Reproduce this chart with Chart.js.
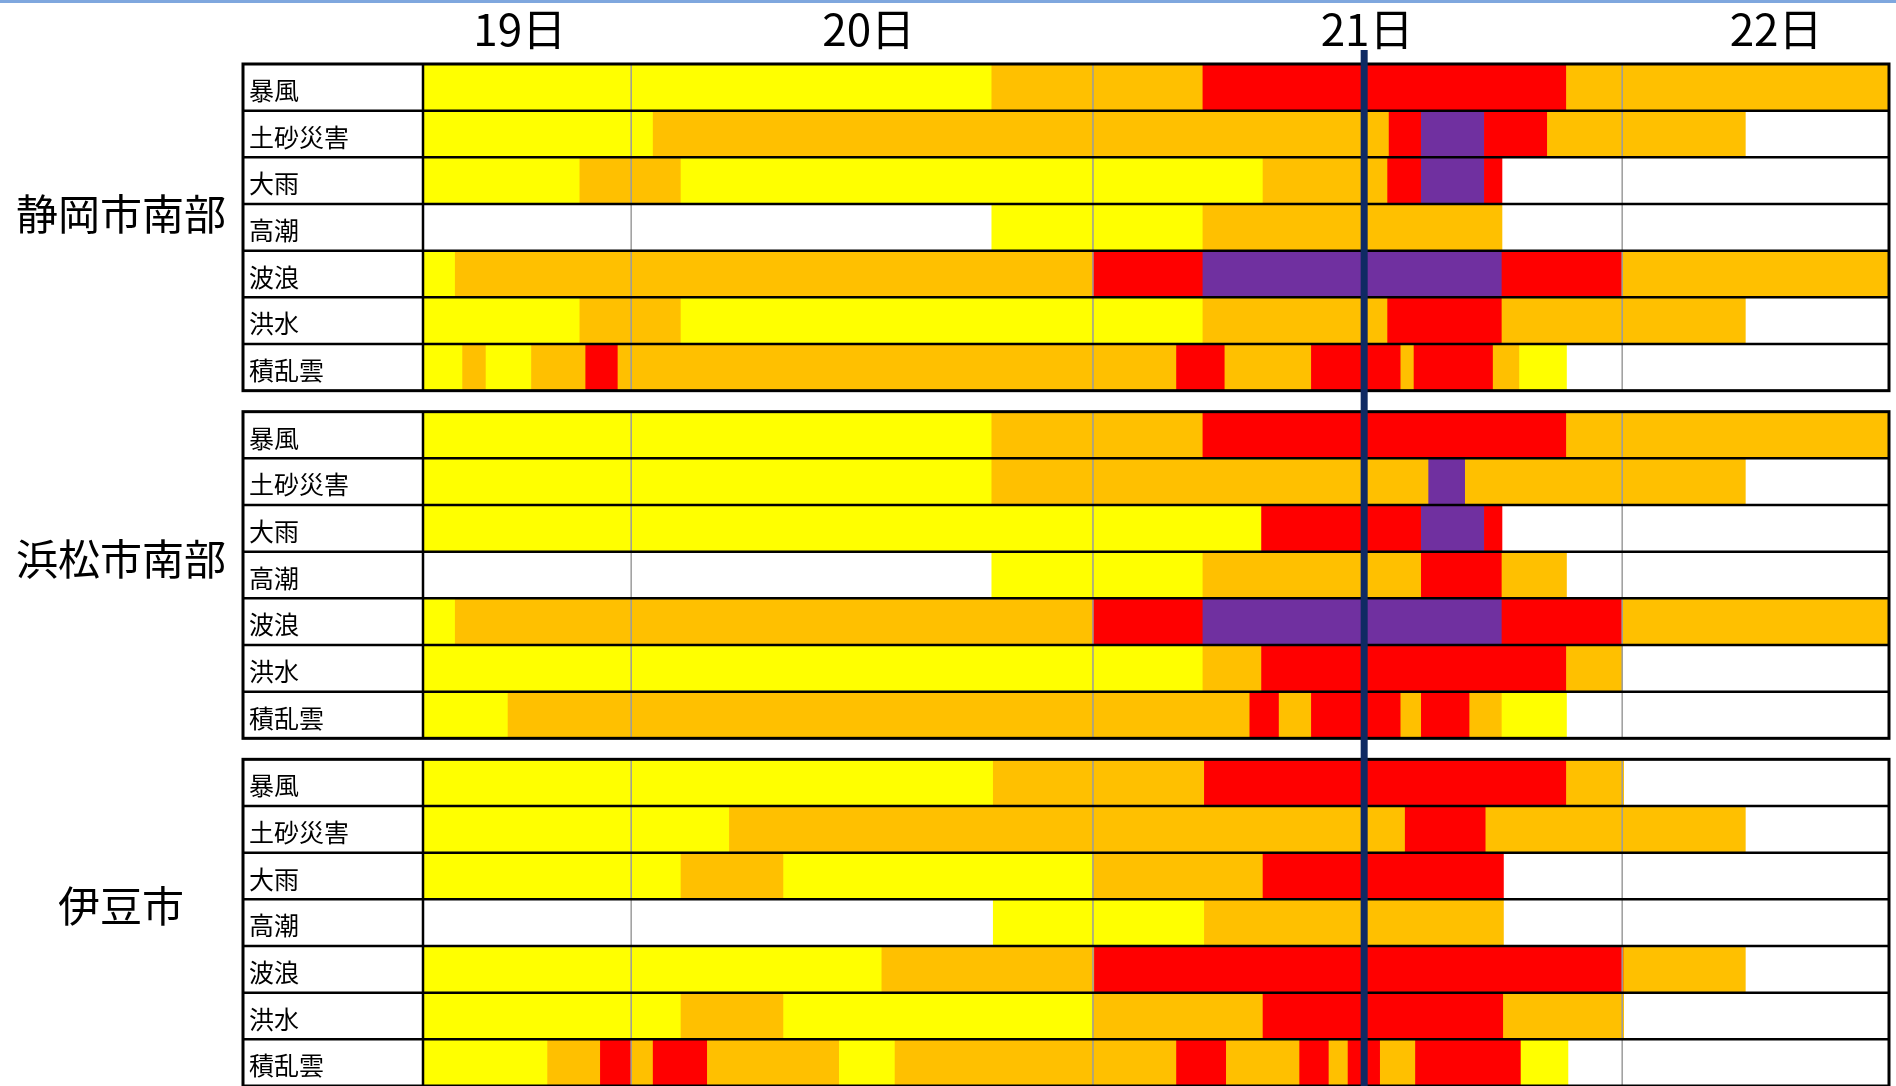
<!DOCTYPE html>
<html lang="ja">
<head>
<meta charset="utf-8">
<title>警報級の可能性</title>
<script src="https://cdn.jsdelivr.net/npm/chart.js@4.4.1/dist/chart.umd.min.js"></script>
<style>
  html, body { margin: 0; padding: 0; background: #fff; overflow: hidden; }
  #wrap { position: relative; width: 1896px; height: 1100px; }
  #topline { position: absolute; left: 0; top: 0; width: 1896px; height: 3px; background: #7fa7de; z-index: 2; }
  canvas { display: block; }
</style>
</head>
<body>
<div id="wrap">
  <div id="topline"></div>
  <canvas id="chart" width="1896" height="1100"></canvas>
</div>
<script>
// ── Data ──
const regions = ['静岡市南部', '浜松市南部', '伊豆市'];
const hazards = ['暴風', '土砂災害', '大雨', '高潮', '波浪', '洪水', '積乱雲'];
const days    = ['19日', '20日', '21日', '22日'];

// time axis runs 0–100 across the table
const dayEdges   = [0, 14.2, 45.7, 81.8, 100];
const dayLabelAt = [6.6, 30.4, 64.4, 92.3];
const nowAt      = 64.2;
// region names sit a little above their block centre (row units)
const regionLabelAt = [3.21, 10.60, 18.04];

// one list per hazard row: [from, to, level]   Y / O / R / P, blank = no warning
const shizuoka = [
  [[0, 38.8, 'Y'], [38.8, 53.2, 'O'], [53.2, 78.0, 'R'], [78.0, 100, 'O']],
  [[0, 15.7, 'Y'], [15.7, 65.9, 'O'], [65.9, 68.1, 'R'], [68.1, 72.4, 'P'], [72.4, 76.7, 'R'], [76.7, 90.2, 'O']],
  [[0, 10.7, 'Y'], [10.7, 17.6, 'O'], [17.6, 57.3, 'Y'], [57.3, 65.8, 'O'], [65.8, 68.1, 'R'], [68.1, 72.4, 'P'], [72.4, 73.6, 'R']],
  [[38.8, 53.2, 'Y'], [53.2, 73.6, 'O']],
  [[0, 2.2, 'Y'], [2.2, 45.7, 'O'], [45.7, 53.2, 'R'], [53.2, 73.6, 'P'], [73.6, 81.8, 'R'], [81.8, 100, 'O']],
  [[0, 10.7, 'Y'], [10.7, 17.6, 'O'], [17.6, 53.2, 'Y'], [53.2, 65.8, 'O'], [65.8, 73.6, 'R'], [73.6, 90.2, 'O']],
  [[0, 2.7, 'Y'], [2.7, 4.3, 'O'], [4.3, 7.4, 'Y'], [7.4, 11.1, 'O'], [11.1, 13.3, 'R'], [13.3, 51.4, 'O'],
   [51.4, 54.7, 'R'], [54.7, 60.6, 'O'], [60.6, 66.7, 'R'], [66.7, 67.6, 'O'], [67.6, 73.0, 'R'], [73.0, 74.8, 'O'], [74.8, 78.0, 'Y']],
];
const hamamatsu = [
  [[0, 38.8, 'Y'], [38.8, 53.2, 'O'], [53.2, 78.0, 'R'], [78.0, 100, 'O']],
  [[0, 38.8, 'Y'], [38.8, 68.6, 'O'], [68.6, 71.1, 'P'], [71.1, 90.2, 'O']],
  [[0, 57.2, 'Y'], [57.2, 68.1, 'R'], [68.1, 72.4, 'P'], [72.4, 73.6, 'R']],
  [[38.8, 53.2, 'Y'], [53.2, 68.1, 'O'], [68.1, 73.6, 'R'], [73.6, 78.0, 'O']],
  [[0, 2.2, 'Y'], [2.2, 45.7, 'O'], [45.7, 53.2, 'R'], [53.2, 73.6, 'P'], [73.6, 81.8, 'R'], [81.8, 100, 'O']],
  [[0, 53.2, 'Y'], [53.2, 57.2, 'O'], [57.2, 78.0, 'R'], [78.0, 81.8, 'O']],
  [[0, 5.8, 'Y'], [5.8, 56.4, 'O'], [56.4, 58.4, 'R'], [58.4, 60.6, 'O'], [60.6, 66.7, 'R'], [66.7, 68.1, 'O'],
   [68.1, 71.4, 'R'], [71.4, 73.6, 'O'], [73.6, 78.0, 'Y']],
];
const izu = [
  [[0, 38.9, 'Y'], [38.9, 53.3, 'O'], [53.3, 78.0, 'R'], [78.0, 81.9, 'O']],
  [[0, 20.9, 'Y'], [20.9, 67.0, 'O'], [67.0, 72.5, 'R'], [72.5, 90.2, 'O']],
  [[0, 17.6, 'Y'], [17.6, 24.6, 'O'], [24.6, 45.7, 'Y'], [45.7, 57.3, 'O'], [57.3, 73.7, 'R']],
  [[38.9, 53.3, 'Y'], [53.3, 73.7, 'O']],
  [[0, 31.3, 'Y'], [31.3, 45.8, 'O'], [45.8, 81.9, 'R'], [81.9, 90.2, 'O']],
  [[0, 17.6, 'Y'], [17.6, 24.6, 'O'], [24.6, 45.7, 'Y'], [45.7, 57.3, 'O'], [57.3, 73.7, 'R'], [73.7, 81.9, 'O']],
  [[0, 8.5, 'Y'], [8.5, 12.1, 'O'], [12.1, 14.2, 'R'], [14.2, 15.7, 'O'], [15.7, 19.4, 'R'], [19.4, 28.4, 'O'],
   [28.4, 32.2, 'Y'], [32.2, 51.4, 'O'], [51.4, 54.8, 'R'], [54.8, 59.8, 'O'], [59.8, 61.8, 'R'], [61.8, 63.1, 'O'],
   [63.1, 65.3, 'R'], [65.3, 67.7, 'O'], [67.7, 74.9, 'R'], [74.9, 78.1, 'Y']],
];
const regionRows = [shizuoka, hamamatsu, izu];

// ── Styling / layout ──
const levelColors = { Y: '#ffff00', O: '#ffc000', R: '#ff0000', P: '#7030a0' };
const GROUP_STEP = 7.45;               // 7 rows + gap between blocks
const Y_MAX = (regions.length - 1) * GROUP_STEP + hazards.length;
const CELL_PAD = 6;
const FONT = "'Noto Sans CJK JP', 'Noto Sans', sans-serif";

const rowCenter = (g, r) => g * GROUP_STEP + r + 0.5;

const points = [];
regionRows.forEach((rows, g) => {
  rows.forEach((segs, r) => {
    segs.forEach(([from, to, lv]) => points.push({ x: [from, to], y: rowCenter(g, r), lv }));
  });
});

// labels are placed by hand, so the axes need no edge padding for them
function noEdgePadding(s) {
  s.paddingTop = 0; s.paddingBottom = 0; s.paddingLeft = 0; s.paddingRight = 0;
}

// table borders, day lines and the "now" marker
const tableGrid = {
  id: 'tableGrid',
  afterDatasetsDraw(chart) {
    const { ctx, chartArea, scales: { x, y } } = chart;
    const left = y.left - CELL_PAD;
    const line = (x1, y1, x2, y2) => { ctx.beginPath(); ctx.moveTo(x1, y1); ctx.lineTo(x2, y2); ctx.stroke(); };
    ctx.save();
    regions.forEach((_, g) => {
      const top = y.getPixelForValue(g * GROUP_STEP);
      const bottom = y.getPixelForValue(g * GROUP_STEP + hazards.length);

      ctx.strokeStyle = '#9c9c9c';
      ctx.lineWidth = 1.5;
      dayEdges.slice(1, -1).forEach((v) => {
        const px = x.getPixelForValue(v);
        line(px, top, px, bottom);
      });

      ctx.strokeStyle = '#000';
      ctx.lineWidth = 2.5;
      for (let r = 1; r < hazards.length; r++) {
        const py = y.getPixelForValue(g * GROUP_STEP + r);
        line(left, py, chartArea.right, py);
      }
      line(chartArea.left, top, chartArea.left, bottom);
      ctx.lineWidth = 3;
      ctx.strokeRect(left, top, chartArea.right - left, bottom - top);
    });

    const nx = x.getPixelForValue(nowAt);
    ctx.strokeStyle = '#0f2a63';
    ctx.lineWidth = 7;
    line(nx, chartArea.top - 14, nx, chartArea.bottom);
    ctx.restore();
  },
};

const verticalBase = { type: 'linear', reverse: true, min: 0, max: Y_MAX, offset: false,
  grid: { display: false, drawTicks: false, offset: false }, border: { display: false } };

new Chart(document.getElementById('chart'), {
  type: 'bar',
  data: {
    datasets: [{
      data: points,
      backgroundColor: (c) => (c.raw ? levelColors[c.raw.lv] : '#ccc'),
      borderWidth: 0,
      barPercentage: 1,
      categoryPercentage: 1,
      grouped: false,
    }],
  },
  options: {
    indexAxis: 'y',
    responsive: false,
    devicePixelRatio: 1,
    animation: false,
    events: [],
    layout: { padding: { top: 0, right: 7, bottom: 14, left: 0 } },
    plugins: { legend: { display: false }, tooltip: { enabled: false } },
    scales: {
      x: {
        type: 'linear', min: 0, max: 100, display: false,
      },
      xTop: {
        type: 'linear', position: 'top', min: 0, max: 100,
        grid: { display: false, drawTicks: false }, border: { display: false },
        afterBuildTicks: (s) => { s.ticks = dayLabelAt.map((v) => ({ value: v })); },
        afterFit: (s) => { s.height = 64; noEdgePadding(s); },
        ticks: {
          autoSkip: false, maxRotation: 0, padding: 8, color: '#000',
          font: { family: FONT, size: 44 },
          callback: (v, i) => days[i],
        },
      },
      yg: {
        ...verticalBase, position: 'left', weight: 2,
        afterBuildTicks: (s) => { s.ticks = regionLabelAt.map((v) => ({ value: v })); },
        afterFit: (s) => { s.width = 249; noEdgePadding(s); },
        ticks: {
          autoSkip: false, crossAlign: 'center', padding: 23, color: '#000',
          font: { family: FONT, size: 42 },
          callback: (v, i) => regions[i],
        },
      },
      y: {
        ...verticalBase, position: 'left', weight: 1,
        afterBuildTicks: (s) => {
          s.ticks = regions.flatMap((_, g) => hazards.map((__, r) => ({ value: rowCenter(g, r) })));
        },
        afterFit: (s) => { s.width = 174; noEdgePadding(s); },
        ticks: {
          autoSkip: false, crossAlign: 'far', labelOffset: 3, color: '#000',
          font: { family: FONT, size: 25 },
          callback: (v, i) => hazards[i % hazards.length],
        },
      },
    },
  },
  plugins: [tableGrid],
});
</script>
</body>
</html>
